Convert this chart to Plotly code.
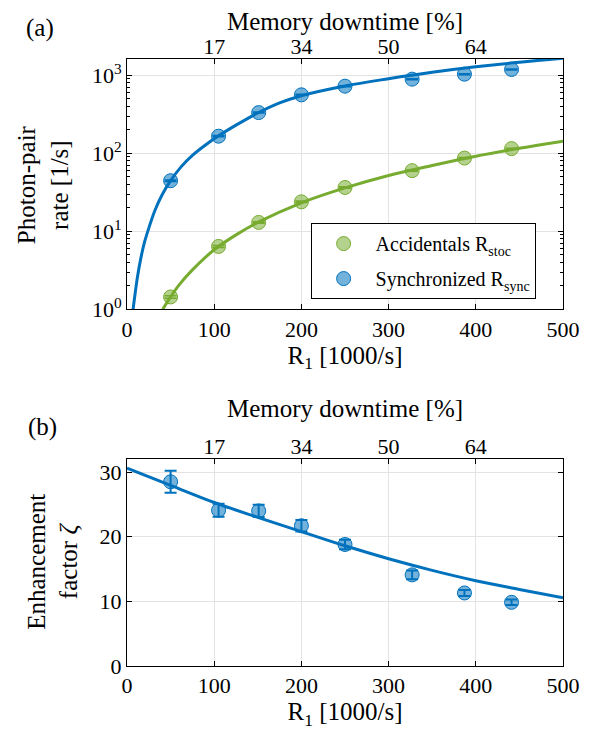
import plotly.graph_objects as go

# ---------------- data ----------------
r1_meas = [50, 105, 151, 200, 250, 327, 387, 441]
rate_stoc = [1.44, 6.4, 13.0, 23.9, 36.5, 60, 87, 115]
rate_stoc_err = [0.05, 0.2, 0.3, 0.5, 0.7, 1.0, 1.3, 1.6]
rate_sync = [44.6, 166, 333, 563, 727, 894, 1036, 1191]
rate_sync_err = [1.0, 3, 5, 8, 10, 12, 14, 16]

# fit curves
fit_stoc_x = [41, 50, 60, 75, 100, 125, 150, 200, 250, 300, 350, 400, 450, 500]
fit_stoc_y = [1.0, 1.44, 2.07, 3.2, 5.8, 9.0, 13.0, 23.2, 36, 52, 70, 92, 116, 143]
fit_sync_x = [7, 9, 12, 16, 20, 25, 32, 40, 50, 62, 75, 90, 105, 125, 150, 175,
              200, 250, 300, 350, 400, 450, 500]
fit_sync_y = [1.0, 1.5, 2.6, 4.6, 7.2, 11, 18.5, 29, 44.6, 67.1, 94.2, 128, 167.7, 230, 329, 443,
              549, 732, 906, 1095, 1287, 1477, 1663]

zeta = [28.5, 24.1, 24.0, 21.7, 18.8, 14.1, 11.3, 9.85]
zeta_err = [1.7, 1.0, 0.95, 0.9, 0.73, 0.68, 0.46, 0.43]
fit_zeta_x = [0, 50, 100, 150, 200, 250, 300, 350, 400, 450, 500]
fit_zeta_y = [30.6, 27.95, 25.3, 23.0, 20.8, 18.6, 16.6, 14.8, 13.2, 11.85, 10.55]

x_ticks = [0, 100, 200, 300, 400, 500]
downtime_pos = [100, 200, 300, 400]
downtime_labels = ["17", "34", "50", "64"]
log_tickvals = [1, 10, 100, 1000]
log_ticktext = ["10<sup>0</sup>", "10<sup>1</sup>", "10<sup>2</sup>", "10<sup>3</sup>"]
lin_tickvals = [0, 10, 20, 30]

# ---------------- styling ----------------
# the page body has an 8px margin; the figure is sized/offset to compensate
OFF = 8
W, H = 596 - OFF, 740 - 2 * OFF
X0, X1 = 127.3, 563.5          # plot-area left/right in page px
Y0, Y1 = 58.5, 666.0           # plot-area top/bottom in page px
ML, MR = X0 - OFF, (OFF + W) - X1
MT, MB = Y0 - OFF, (OFF + H) - Y1
FONT = "Liberation Serif"
BLUE = "#0072BD"
GREEN = "#77AC30"
BLUE_FILL = "rgba(0,114,189,0.55)"
GREEN_FILL = "rgba(119,172,48,0.55)"
GRID = "#e3e3e3"


def ypaper(py):
    return (Y1 - py) / (Y1 - Y0)


def xpaper(px):
    return (px - X0) / (X1 - X0)


def ydom(top_px, bot_px):
    return [ypaper(bot_px), ypaper(top_px)]


fig = go.Figure()

# panel (a)
fig.add_trace(go.Scatter(x=fit_stoc_x, y=fit_stoc_y, mode="lines", line=dict(color=GREEN, width=3, shape="spline"),
                         showlegend=False, hoverinfo="skip", xaxis="x", yaxis="y"))
fig.add_trace(go.Scatter(x=fit_sync_x, y=fit_sync_y, mode="lines", line=dict(color=BLUE, width=3, shape="spline"),
                         showlegend=False, hoverinfo="skip", xaxis="x", yaxis="y"))
fig.add_trace(go.Scatter(x=r1_meas, y=rate_stoc, mode="markers", name="Accidentals R<sub>stoc</sub>",
                         legendgroup="a",
                         marker=dict(size=14, color=GREEN_FILL, line=dict(color=GREEN, width=1)),
                         error_y=dict(type="data", array=rate_stoc_err, color=GREEN, thickness=1.5, width=6),
                         xaxis="x", yaxis="y"))
fig.add_trace(go.Scatter(x=r1_meas, y=rate_sync, mode="markers", name="Synchronized R<sub>sync</sub>",
                         legendgroup="b",
                         marker=dict(size=14, color=BLUE_FILL, line=dict(color=BLUE, width=1)),
                         error_y=dict(type="data", array=rate_sync_err, color=BLUE, thickness=1.5, width=6),
                         xaxis="x", yaxis="y"))
fig.add_trace(go.Scatter(x=[None], y=[None], xaxis="x3", yaxis="y", showlegend=False, hoverinfo="skip"))

# panel (b)
fig.add_trace(go.Scatter(x=fit_zeta_x, y=fit_zeta_y, mode="lines", line=dict(color=BLUE, width=3, shape="spline"),
                         showlegend=False, hoverinfo="skip", xaxis="x2", yaxis="y2"))
fig.add_trace(go.Scatter(x=r1_meas, y=zeta, mode="markers", showlegend=False,
                         marker=dict(size=14, color=BLUE_FILL, line=dict(color=BLUE, width=1)),
                         error_y=dict(type="data", array=zeta_err, color=BLUE, thickness=2, width=6),
                         xaxis="x2", yaxis="y2"))
fig.add_trace(go.Scatter(x=[None], y=[None], xaxis="x4", yaxis="y2", showlegend=False, hoverinfo="skip"))

tickfont = dict(family=FONT, size=22, color="black")
titlefont = dict(family=FONT, size=25, color="black")

common_x = dict(range=[0, 500], tickvals=x_ticks, ticks="inside", ticklen=5, tickcolor="black",
                showline=True, linecolor="black", linewidth=1, mirror=True, showgrid=True, gridcolor=GRID,
                zeroline=False, tickfont=tickfont, automargin=False)
top_x = dict(range=[0, 500], tickmode="array", tickvals=downtime_pos, ticktext=downtime_labels, side="top",
             ticks="inside", ticklen=5, tickcolor="black", showline=False, showgrid=False, zeroline=False,
             tickfont=tickfont, automargin=False,
             title=dict(text="Memory downtime [%]", font=titlefont, standoff=9))

minor_vals = [m * 10 ** e for e in range(0, 4) for m in range(2, 10)]

fig.update_layout(
    width=W, height=H,
    margin=dict(l=ML, r=MR, t=MT, b=MB, pad=0),
    paper_bgcolor="white", plot_bgcolor="white",
    font=dict(family=FONT, color="black"),
    xaxis=dict(common_x, anchor="y",
               title=dict(text="R<sub>1</sub> [1000/s]", font=titlefont, standoff=5)),
    xaxis3=dict(top_x, overlaying="x", anchor="y"),
    yaxis=dict(type="log", range=[0, 3.21], domain=ydom(58.5, 309), tickmode="array",
               tickvals=log_tickvals, ticktext=log_ticktext, ticks="inside", ticklen=5, tickcolor="black",
               minor=dict(ticks="inside", ticklen=3, tickcolor="black", tickmode="array", tickvals=minor_vals,
                          showgrid=False),
               showline=True, linecolor="black", linewidth=1, mirror="ticks", showgrid=True, gridcolor=GRID,
               zeroline=False, tickfont=tickfont, automargin=False),
    xaxis2=dict(common_x, anchor="y2",
                title=dict(text="R<sub>1</sub> [1000/s]", font=titlefont, standoff=3)),
    xaxis4=dict(top_x, overlaying="x2", anchor="y2"),
    yaxis2=dict(range=[0, 32], domain=ydom(459, 666), tickvals=lin_tickvals, ticks="inside", ticklen=5,
                tickcolor="black", showline=True, linecolor="black", linewidth=1, mirror="ticks",
                showgrid=True, gridcolor=GRID, zeroline=False, tickfont=tickfont, automargin=False),
    legend=dict(x=xpaper(311), y=ypaper(222.7), xanchor="left", yanchor="top",
                bgcolor="white", bordercolor="black", borderwidth=1,
                font=dict(family=FONT, size=20, color="black"), tracegroupgap=6, itemwidth=54),
    annotations=[
        dict(text="Photon-pair<br>rate [1/s]", x=xpaper(44), y=ypaper(184), xref="paper", yref="paper",
             textangle=-90, showarrow=False, font=titlefont, xanchor="center", yanchor="middle"),
        dict(text="Enhancement<br>factor <i>ζ</i>", x=xpaper(53), y=ypaper(562), xref="paper", yref="paper",
             textangle=-90, showarrow=False, font=titlefont, xanchor="center", yanchor="middle"),
        dict(text="(a)", x=xpaper(40), y=ypaper(27), xref="paper", yref="paper", showarrow=False,
             font=titlefont, xanchor="center", yanchor="middle"),
        dict(text="(b)", x=xpaper(43), y=ypaper(427), xref="paper", yref="paper", showarrow=False,
             font=titlefont, xanchor="center", yanchor="middle"),
    ],
)

fig.write_html("out.html")
